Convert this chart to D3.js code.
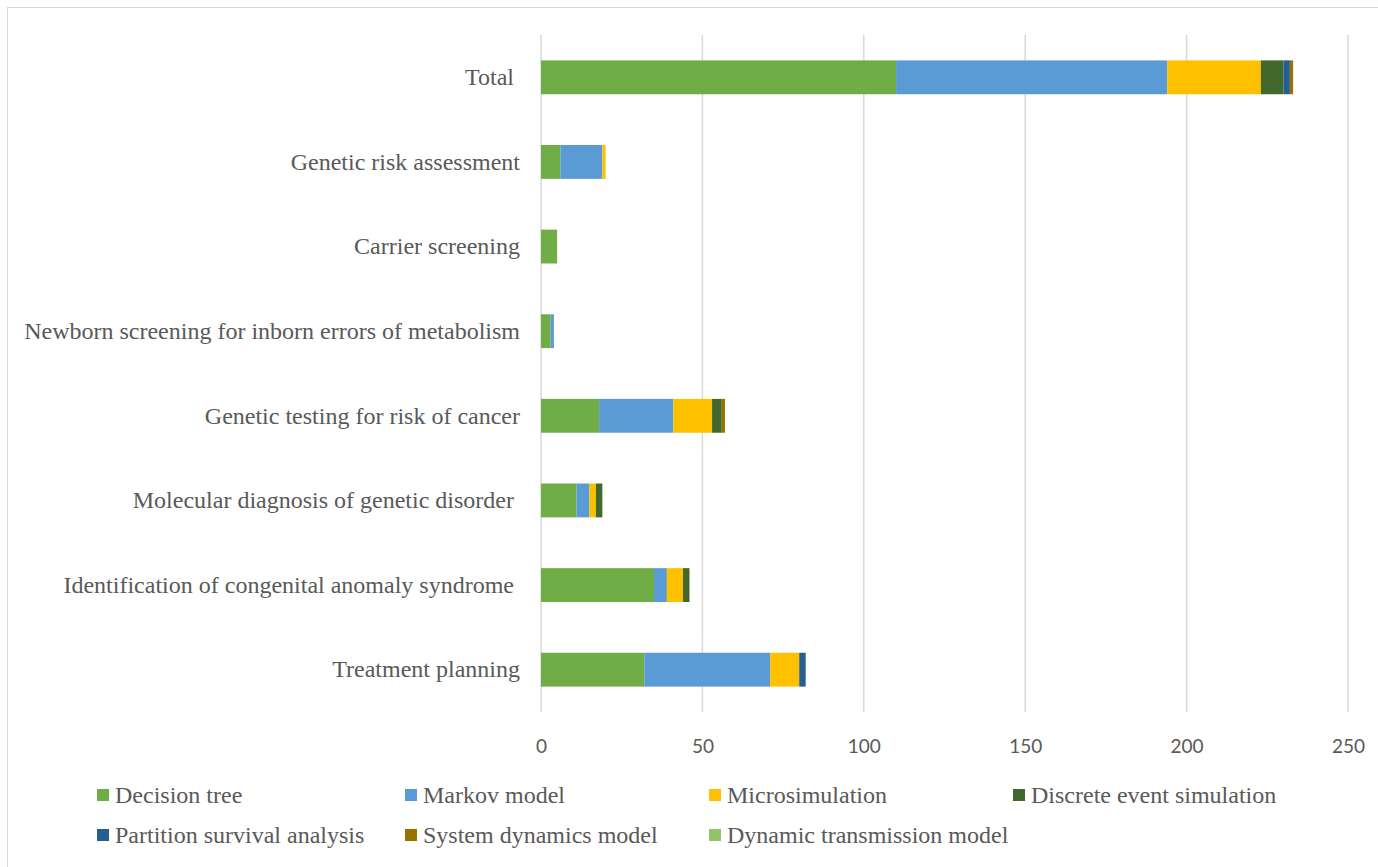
<!DOCTYPE html>
<html>
<head>
<meta charset="utf-8">
<script src="https://cdn.jsdelivr.net/npm/d3@7"></script>
<style>
  html, body { margin: 0; padding: 0; background: #fff; }
  svg { display: block; }
</style>
</head>
<body>
<svg id="chart" width="1378" height="867"></svg>
<script>
const categories = [
  "Total ",
  "Genetic risk assessment",
  "Carrier screening",
  "Newborn screening for inborn errors of metabolism",
  "Genetic testing for risk of cancer",
  "Molecular diagnosis of genetic disorder ",
  "Identification of congenital anomaly syndrome ",
  "Treatment planning"
];
const seriesNames = [
  "Decision tree", "Markov model", "Microsimulation", "Discrete event simulation",
  "Partition survival analysis", "System dynamics model", "Dynamic transmission model"
];
const decisionTree        = [110, 6, 5, 3, 18, 11, 35, 32];
const markovModel         = [84, 13, 0, 1, 23, 4, 4, 39];
const microsimulation     = [29, 1, 0, 0, 12, 2, 5, 9];
const discreteEvent       = [7, 0, 0, 0, 3, 2, 2, 0];
const partitionSurvival   = [2, 0, 0, 0, 0, 0, 0, 2];
const systemDynamics      = [1, 0, 0, 0, 1, 0, 0, 0];
const dynamicTransmission = [0, 0, 0, 0, 0, 0, 0, 0];
const xTicks = [0, 50, 100, 150, 200, 250];
const colors = ["#70ad47", "#5b9bd5", "#ffc000", "#43682b", "#255e91", "#997300", "#8fc46a"];

(function () {
const seriesValues = [decisionTree, markovModel, microsimulation, discreteEvent,
  partitionSurvival, systemDynamics, dynamicTransmission];
const rows = categories.map((c, i) => {
  const r = { category: c };
  seriesNames.forEach((s, j) => r[s] = seriesValues[j][i]);
  return r;
});

const svg = d3.select("#chart");
svg.append("rect").attr("x", 7.5).attr("y", 7.5).attr("width", 1400).attr("height", 900)
  .attr("fill", "none").attr("stroke", "#d9d9d9").attr("stroke-width", 1);

const pLeft = 541, pRight = 1348, pTop = 35, pBottom = 712;
const x = d3.scaleLinear().domain([0, 250]).range([pLeft, pRight]);
const y = d3.scaleBand().domain(categories).range([pTop, pBottom]).paddingInner(0.6).paddingOuter(0.3);

svg.append("g").selectAll("line").data(xTicks).join("line")
  .attr("x1", d => x(d)).attr("x2", d => x(d))
  .attr("y1", pTop).attr("y2", pBottom)
  .attr("stroke", "#d9d9d9").attr("stroke-width", 1.5);

const stacked = d3.stack().keys(seriesNames)(rows);
svg.append("g").selectAll("g").data(stacked).join("g")
  .attr("fill", (d, i) => colors[i])
  .selectAll("rect").data(d => d).join("rect")
  .attr("x", d => x(d[0]))
  .attr("width", d => Math.max(0, x(d[1]) - x(d[0])))
  .attr("y", d => y(d.data.category))
  .attr("height", y.bandwidth());

const xAxis = d3.axisBottom(x).tickValues(xTicks).tickSize(0).tickPadding(0);
const gx = svg.append("g").attr("transform", `translate(0, 739)`).call(xAxis);
gx.select(".domain").remove();
gx.selectAll("text").attr("font-family", "Lato, 'Open Sans', sans-serif")
  .attr("font-size", 19).attr("fill", "#595959");

const yAxis = d3.axisLeft(y).tickSize(0).tickPadding(0);
const gy = svg.append("g").attr("transform", `translate(520, 0)`).call(yAxis);
gy.select(".domain").remove();
gy.selectAll("text").attr("font-family", "'Liberation Serif', 'Times New Roman', serif")
  .attr("font-size", 24).attr("fill", "#595959").style("white-space", "pre");

const legendPos = [[97, 795], [405, 795], [709, 795], [1013, 795], [97, 835], [405, 835], [709, 835]];
const lg = svg.append("g").selectAll("g").data(seriesNames).join("g")
  .attr("transform", (d, i) => `translate(${legendPos[i][0]}, ${legendPos[i][1]})`);
lg.append("rect").attr("x", 0).attr("y", -6).attr("width", 12).attr("height", 12)
  .attr("fill", (d, i) => colors[i]);
lg.append("text").attr("x", 18).attr("y", 0).attr("dy", "0.35em")
  .attr("font-family", "'Liberation Serif', 'Times New Roman', serif")
  .attr("font-size", 24).attr("fill", "#595959").text(d => d);
})();
</script>
</body>
</html>
